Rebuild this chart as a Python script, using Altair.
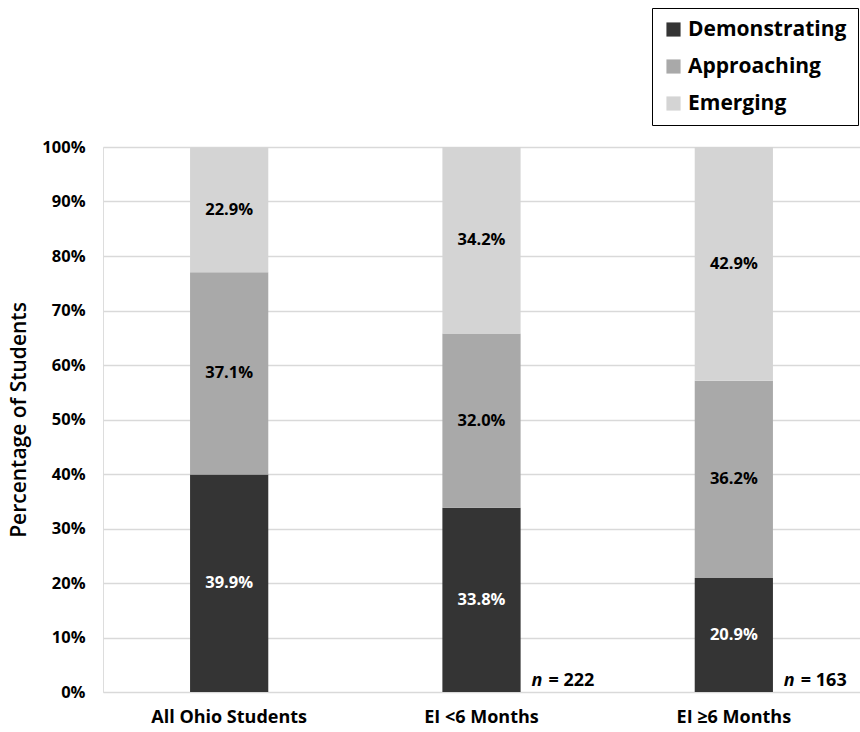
import altair as alt
import pandas as pd

groups = ["All Ohio Students", "EI <6 Months", "EI ≥6 Months"]
levels = ["Demonstrating", "Approaching", "Emerging"]
demonstrating = [39.9, 33.8, 20.9]
approaching = [37.1, 32.0, 36.2]
emerging = [22.9, 34.2, 42.9]
n_groups = ["EI <6 Months", "EI ≥6 Months"]
n_values = [222, 163]

colors = ["#343434", "#a9a9a9", "#d4d4d4"]
text_colors = ["#ffffff", "#000000", "#000000"]

rows = []
for i, g in enumerate(groups):
    base = 0.0
    for j, (lvl, series) in enumerate(zip(levels, [demonstrating, approaching, emerging])):
        v = series[i] / 100.0
        rows.append({"group": g, "level": lvl, "order": j, "value": v,
                     "mid": base + v / 2, "label": f"{series[i]:.1f}%",
                     "tcolor": text_colors[j]})
        base += v
df = pd.DataFrame(rows)
ndf = pd.DataFrame({"group": n_groups, "n": ["n"] * len(n_groups),
                    "rest": [f"= {v}" for v in n_values], "y": [0.0] * len(n_groups)})

FONT = "Open Sans"
xenc = alt.X("group:N", sort=groups, title=None,
             scale=alt.Scale(paddingInner=0.69, paddingOuter=0.345),
             axis=alt.Axis(labelAngle=0, labelFontSize=18, labelFontWeight="bold",
                           labelColor="#000000", labelFont=FONT, labelPadding=16,
                           domain=False, ticks=False, labelLimit=300))

bars = alt.Chart(df).mark_bar().encode(
    x=xenc,
    y=alt.Y("value:Q", stack="zero", title="Percentage of Students",
            scale=alt.Scale(domain=[0, 1]),
            axis=alt.Axis(format=".0%", values=[i / 10 for i in range(11)],
                          labelFontSize=16.5, labelFontWeight="bold", labelColor="#000000",
                          labelFont=FONT, labelPadding=18, domain=False, ticks=False,
                          gridColor="#d9d9d9", gridWidth=1.3,
                          titleFontSize=21, titleFontWeight=600, titleFont=FONT,
                          titleColor="#000000", titlePadding=12)),
    color=alt.Color("level:N", sort=levels,
                    scale=alt.Scale(domain=levels, range=colors),
                    legend=alt.Legend(title=None, orient="none", legendX=549, legendY=-139,
                                      direction="vertical", symbolType="square",
                                      symbolSize=200, symbolStrokeWidth=0,
                                      labelFontSize=21, labelFontWeight="bold",
                                      labelFont=FONT, labelColor="#000000",
                                      rowPadding=15, padding=11, strokeColor="#000000",
                                      fillColor="#ffffff", labelLimit=300, offset=0)),
    order=alt.Order("order:Q", sort="ascending"),
)

labels = alt.Chart(df).mark_text(fontSize=16.5, fontWeight="bold", font=FONT).encode(
    x=alt.X("group:N", sort=groups),
    y=alt.Y("mid:Q"),
    text="label:N",
    color=alt.Color("tcolor:N", scale=None, legend=None),
)

n_text = alt.Chart(ndf).mark_text(fontSize=18, fontWeight="bold", fontStyle="italic",
                                  font=FONT, align="left", baseline="bottom",
                                  dx=50, dy=-2, color="#000000").encode(
    x=alt.X("group:N", sort=groups), y="y:Q", text="n:N")
rest_text = alt.Chart(ndf).mark_text(fontSize=18, fontWeight="bold", font=FONT,
                                     align="left", baseline="bottom",
                                     dx=67, dy=-2, color="#000000").encode(
    x=alt.X("group:N", sort=groups), y="y:Q", text="rest:N")

chart = alt.layer(bars, labels, n_text, rest_text).properties(
    width=757, height=545,
    autosize=alt.AutoSizeParams(type="none"),
    padding={"left": 103, "top": 147, "right": 0, "bottom": 40},
).configure_view(stroke=None).configure(background="#ffffff")

chart.save("out.html", embed_options={"renderer": "svg", "actions": False})
